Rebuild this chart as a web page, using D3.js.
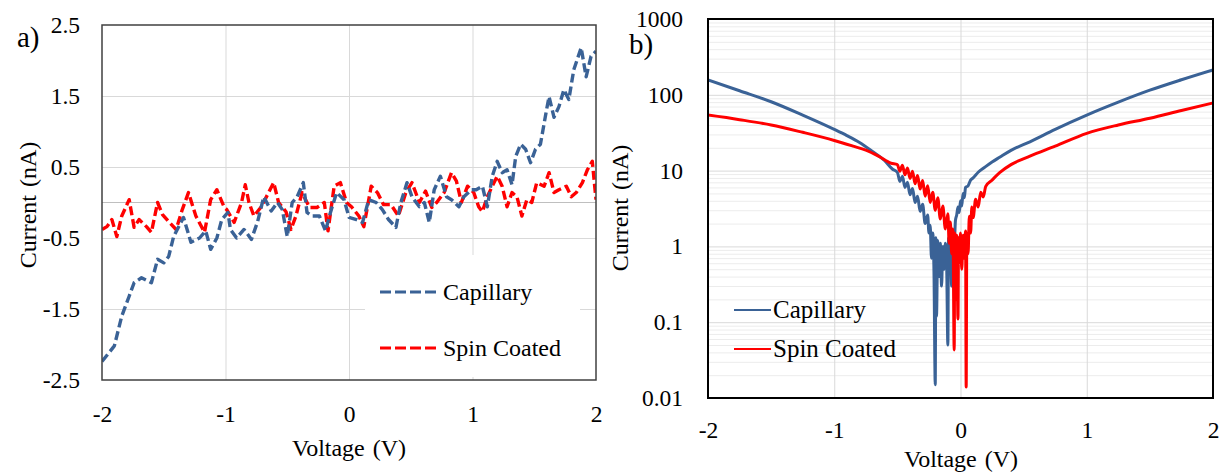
<!DOCTYPE html>
<html lang="en">
<head>
    <meta charset="utf-8"/>
    <title>I-V curves</title>
    <style>
        body { margin: 0; background: #fff; }
        svg, svg text { font-family: "Liberation Serif", "Times New Roman", serif; }
        .tick text { font-size: 23.5px; fill: #000; font-family: "Liberation Serif", "Times New Roman", serif; }
        .grid line { stroke: #d9d9d9; stroke-width: 1px; }
        .grid-minor line { stroke: #ececec; stroke-width: 1px; }
        .grid path, .grid-minor path, .axis path { display: none; }
    </style>
</head>
<body>
<div class="viz"></div>
<script src="https://cdnjs.cloudflare.com/ajax/libs/d3/7.8.5/d3.min.js"></script>
<script>
    // panel a) linear I-V, dashed
    var capV = [-2.00, -1.90, -1.84, -1.78, -1.74, -1.68, -1.60, -1.55, -1.50, -1.46, -1.42, -1.34, -1.28, -1.21, -1.16, -1.12, -1.07, -1.03, -0.98,
        -0.96, -0.91, -0.85, -0.79, -0.74, -0.69, -0.63, -0.58, -0.54, -0.50, -0.46, -0.42, -0.37, -0.34, -0.30, -0.24, -0.19, -0.15, -0.10, -0.04,
        0.00, 0.06, 0.11, 0.16, 0.22, 0.27, 0.32, 0.38, 0.42, 0.47, 0.51, 0.57, 0.61, 0.65, 0.69, 0.74, 0.79, 0.83, 0.89, 0.93, 0.99,
        1.03, 1.08, 1.12, 1.16, 1.20, 1.24, 1.28, 1.32, 1.35, 1.39, 1.43, 1.47, 1.51, 1.55, 1.60, 1.62, 1.66, 1.70, 1.74, 1.78, 1.82, 1.88, 1.92, 1.96, 2.00];
    var capI = [-2.24, -2.02, -1.60, -1.32, -1.13, -1.06, -1.13, -0.80, -0.85, -0.76, -0.48, -0.21, -0.56, -0.50, -0.40, -0.66, -0.50, -0.24, -0.14,
        -0.38, -0.50, -0.38, -0.52, -0.27, 0.08, -0.12, 0.00, -0.10, -0.48, 0.00, 0.08, 0.28, -0.14, -0.19, -0.19, -0.40, -0.14, 0.14, 0.04,
        -0.21, -0.24, -0.28, 0.04, 0.00, -0.10, -0.24, -0.35, 0.00, 0.28, 0.08, -0.06, 0.00, -0.28, 0.18, 0.37, 0.08, 0.04, -0.06, 0.08, 0.18,
        0.18, 0.23, -0.06, 0.37, 0.58, 0.42, 0.46, 0.25, 0.65, 0.82, 0.75, 0.56, 0.75, 0.82, 1.31, 1.49, 1.20, 1.35, 1.59, 1.45, 1.87, 2.18, 1.77, 2.06, 2.13];

    var spinV = [-2.00, -1.96, -1.92, -1.88, -1.84, -1.78, -1.74, -1.70, -1.64, -1.60, -1.55, -1.51, -1.46, -1.40, -1.35, -1.30, -1.24, -1.17, -1.12, -1.07, -1.01,
        -0.99, -0.93, -0.87, -0.84, -0.81, -0.77, -0.71, -0.66, -0.61, -0.57, -0.51, -0.47, -0.43, -0.38, -0.32, -0.26, -0.20, -0.17, -0.12, -0.07, -0.02,
        0.02, 0.08, 0.12, 0.18, 0.23, 0.28, 0.34, 0.40, 0.46, 0.51, 0.57, 0.62, 0.67, 0.71, 0.77, 0.83, 0.87, 0.91, 0.96, 1.01,
        1.05, 1.08, 1.12, 1.16, 1.20, 1.24, 1.28, 1.32, 1.36, 1.40, 1.44, 1.48, 1.52, 1.58, 1.62, 1.66, 1.70, 1.76, 1.80, 1.84, 1.89, 1.93, 1.97, 2.00];
    var spinI = [-0.38, -0.34, -0.24, -0.48, -0.19, 0.04, -0.35, -0.24, -0.34, -0.42, 0.00, -0.17, -0.27, -0.38, -0.10, 0.14, -0.19, -0.42, 0.04, 0.18, -0.07,
        -0.10, -0.28, 0.00, 0.25, 0.00, -0.19, -0.06, 0.11, 0.28, 0.00, -0.13, -0.38, -0.19, 0.14, -0.07, -0.07, 0.00, -0.40, 0.23, 0.28, 0.00,
        -0.06, -0.19, -0.34, 0.23, 0.14, -0.03, -0.03, -0.19, 0.14, 0.28, 0.00, 0.16, -0.07, 0.00, 0.14, 0.42, 0.30, 0.00, 0.23, 0.14,
        -0.06, -0.13, 0.08, 0.23, 0.37, 0.23, -0.06, 0.14, 0.08, -0.19, 0.04, 0.00, 0.28, 0.23, 0.42, 0.14, 0.18, 0.23, 0.08, 0.14, 0.28, 0.46, 0.58, 0.04];

    // panel b) |I| on log axis, solid
    var capLogV = [-2.00, -1.75, -1.50, -1.25, -1.00, -0.90, -0.80, -0.70, -0.60, -0.54,
        -0.50, -0.48, -0.46, -0.44, -0.42, -0.40, -0.38, -0.36, -0.34, -0.32, -0.30, -0.28, -0.26,
        -0.25, -0.24, -0.23, -0.22, -0.21, -0.20, -0.195, -0.19, -0.18, -0.17, -0.16, -0.15, -0.14, -0.13, -0.12, -0.11, -0.10, -0.095, -0.09, -0.08, -0.07, -0.06, -0.05,
        -0.04, -0.03, -0.02, -0.01, 0.00, 0.01, 0.02, 0.03, 0.04, 0.06, 0.08, 0.10, 0.14, 0.19, 0.25, 0.31, 0.40, 0.55, 0.75, 1.00, 1.25, 1.50, 1.75, 2.00];
    var capLogI = [157, 113, 81, 54, 35, 29, 23.5, 18, 13.5, 10.5,
        9.5, 7.2, 8.4, 6.0, 7.0, 4.8, 5.8, 3.8, 4.6, 2.9, 3.6, 2.0, 2.6,
        1.5, 1.9, 0.7, 1.5, 0.45, 0.015, 1.3, 0.12, 1.2, 0.4, 1.1, 0.3, 1.0, 0.5, 1.1, 0.6, 0.05, 1.3, 0.7, 1.2, 0.3, 1.5, 1.0,
        2.2, 2.6, 3.3, 2.8, 4.0, 3.4, 5.0, 4.4, 6.0, 6.3, 7.5, 8.0, 9.5, 11, 13, 15, 18.5, 24, 35, 54, 80, 115, 158, 213];

    var spinLogV = [-2.00, -1.75, -1.50, -1.25, -1.00, -0.85, -0.75, -0.65, -0.55, -0.50, -0.48, -0.46, -0.44, -0.42, -0.40, -0.38, -0.36, -0.34, -0.32, -0.30,
        -0.28, -0.26, -0.24, -0.22, -0.20, -0.18, -0.16, -0.14, -0.12, -0.10, -0.09, -0.08, -0.07, -0.06, -0.05, -0.045, -0.04, -0.035, -0.03, -0.02, -0.015, -0.01,
        0.00, 0.01, 0.02, 0.03, 0.04, 0.045, 0.05, 0.06, 0.07, 0.08, 0.09, 0.10, 0.12, 0.14, 0.16, 0.18, 0.20, 0.25, 0.31, 0.40, 0.55, 0.75, 1.00, 1.25, 1.50, 1.75, 2.00];
    var spinLogI = [54, 47, 40, 32, 25, 21, 18.6, 15.5, 12.5, 12.0, 9.8, 11.8, 8.8, 10.8, 7.9, 9.8, 6.7, 8.6, 5.7, 7.4,
        4.6, 6.3, 3.8, 5.2, 3.0, 4.4, 2.3, 3.4, 1.7, 2.7, 1.1, 2.1, 0.8, 1.7, 0.043, 1.5, 0.7, 0.2, 1.4, 0.11, 1.3, 0.6,
        1.5, 0.5, 1.4, 0.7, 1.6, 0.014, 1.5, 0.8, 2.5, 1.5, 3.3, 2.4, 4.2, 3.3, 5.2, 4.5, 6.2, 7.5, 9.4, 12, 15.5, 21, 31, 40, 49, 62, 78];

    var seriesNames = ["Capillary", "Spin Coated"];
    var seriesColors = ["#3a6296", "#ff0000"];

    var linXTicks = [-2, -1, 0, 1, 2];
    var linYTicks = [-2.5, -1.5, -0.5, 0.5, 1.5, 2.5];
    var logYTicks = [0.01, 0.1, 1, 10, 100, 1000];

    var W = 1222, H = 475;
    var serif = "Liberation Serif, Times New Roman, serif";
    var tickFont = 23.5, titleFont = 24;
    var svg = d3.select(".viz").append("svg").attr("width", W).attr("height", H)
        .attr("font-family", serif);

    function zip(xs, ys) {
        return xs.map(function (v, i) { return [v, ys[i]]; });
    }
    function plain(d) { return String(d); }

    // ---------- panel a ----------
    var ax = {left: 102, right: 596, top: 25, bottom: 380};
    var xA = d3.scaleLinear().domain([-2, 2]).range([ax.left, ax.right]);
    var yA = d3.scaleLinear().domain([-2.5, 2.5]).range([ax.bottom, ax.top]);

    var gA = svg.append("g");

    gA.append("g").attr("class", "grid")
        .attr("transform", "translate(0," + ax.bottom + ")")
        .call(d3.axisBottom(xA).tickValues([-1, 0, 1]).tickSize(-(ax.bottom - ax.top)).tickFormat(""));
    gA.append("g").attr("class", "grid")
        .attr("transform", "translate(" + ax.left + ",0)")
        .call(d3.axisLeft(yA).tickValues([-1.5, -0.5, 0.5, 1.5]).tickSize(-(ax.right - ax.left)).tickFormat(""));

    // horizontal axis line through zero
    gA.append("line")
        .attr("x1", ax.left).attr("x2", ax.right)
        .attr("y1", yA(0)).attr("y2", yA(0))
        .attr("stroke", "#bfbfbf").attr("stroke-width", 1.2);

    svg.append("clipPath").attr("id", "clipA").append("rect")
        .attr("x", ax.left).attr("y", ax.top)
        .attr("width", ax.right - ax.left).attr("height", ax.bottom - ax.top);

    var lineA = d3.line().x(function (d) { return xA(d[0]); }).y(function (d) { return yA(d[1]); });

    var linData = [zip(spinV, spinI), zip(capV, capI)];
    var linColors = [seriesColors[1], seriesColors[0]];
    gA.append("g").attr("clip-path", "url(#clipA)")
        .selectAll("path").data(linData).enter().append("path")
        .attr("d", lineA)
        .attr("fill", "none")
        .attr("stroke", function (d, i) { return linColors[i]; })
        .attr("stroke-width", 3.4)
        .attr("stroke-dasharray", "9,4")
        .attr("stroke-linejoin", "round");

    // legend box
    var legA = gA.append("g");
    legA.append("rect").attr("x", 365).attr("y", 255).attr("width", 215).attr("height", 122).attr("fill", "#fff");
    seriesNames.forEach(function (name, i) {
        var ly = 292 + i * 56;
        legA.append("line").attr("x1", 380).attr("x2", 436).attr("y1", ly).attr("y2", ly)
            .attr("stroke", seriesColors[i]).attr("stroke-width", 3).attr("stroke-dasharray", "11,4");
        legA.append("text").attr("x", 443).attr("y", ly + 8).attr("font-size", titleFont).text(name);
    });

    gA.append("rect")
        .attr("x", ax.left).attr("y", ax.top)
        .attr("width", ax.right - ax.left).attr("height", ax.bottom - ax.top)
        .attr("fill", "none").attr("stroke", "#404040").attr("stroke-width", 1.5);

    gA.append("g").attr("class", "axis")
        .attr("transform", "translate(0," + ax.bottom + ")")
        .call(d3.axisBottom(xA).tickValues(linXTicks).tickSize(0).tickPadding(25).tickFormat(plain))
        .attr("font-family", serif).attr("font-size", tickFont);
    gA.append("g").attr("class", "axis")
        .attr("transform", "translate(" + ax.left + ",0)")
        .call(d3.axisLeft(yA).tickValues(linYTicks).tickSize(0).tickPadding(22).tickFormat(plain))
        .attr("font-family", serif).attr("font-size", tickFont);

    gA.append("text").attr("x", 349).attr("y", 456).attr("text-anchor", "middle")
        .attr("font-size", titleFont).attr("word-spacing", 2).text("Voltage (V)");
    gA.append("text").attr("transform", "translate(36,205) rotate(-90)").attr("text-anchor", "middle")
        .attr("font-size", titleFont).attr("word-spacing", 2).text("Current (nA)");
    gA.append("text").attr("x", 17).attr("y", 47).attr("font-size", 29).text("a)");

    // ---------- panel b ----------
    var bx = {left: 708, right: 1213, top: 19, bottom: 398};
    var xB = d3.scaleLinear().domain([-2, 2]).range([bx.left, bx.right]);
    var yB = d3.scaleLog().domain([0.01, 1000]).range([bx.bottom, bx.top]);

    var gB = svg.append("g");

    var minorTicks = [];
    logYTicks.slice(0, -1).forEach(function (dec) {
        for (var m = 2; m <= 9; m++) minorTicks.push(dec * m);
    });
    gB.append("g").attr("class", "grid-minor")
        .attr("transform", "translate(" + bx.left + ",0)")
        .call(d3.axisLeft(yB).tickValues(minorTicks).tickSize(-(bx.right - bx.left)).tickFormat(""));
    gB.append("g").attr("class", "grid")
        .attr("transform", "translate(" + bx.left + ",0)")
        .call(d3.axisLeft(yB).tickValues([0.1, 1, 10, 100]).tickSize(-(bx.right - bx.left)).tickFormat(""));
    gB.append("g").attr("class", "grid")
        .attr("transform", "translate(0," + bx.bottom + ")")
        .call(d3.axisBottom(xB).tickValues([-1, 0, 1]).tickSize(-(bx.bottom - bx.top)).tickFormat(""));

    svg.append("clipPath").attr("id", "clipB").append("rect")
        .attr("x", bx.left).attr("y", bx.top)
        .attr("width", bx.right - bx.left).attr("height", bx.bottom - bx.top);

    var lineB = d3.line().curve(d3.curveMonotoneX)
        .x(function (d) { return xB(d[0]); }).y(function (d) { return yB(d[1]); });
    var logData = [zip(capLogV, capLogI), zip(spinLogV, spinLogI)];
    gB.append("g").attr("clip-path", "url(#clipB)")
        .selectAll("path").data(logData).enter().append("path")
        .attr("d", lineB)
        .attr("fill", "none")
        .attr("stroke", function (d, i) { return seriesColors[i]; })
        .attr("stroke-width", 3)
        .attr("stroke-linejoin", "round");

    seriesNames.forEach(function (name, i) {
        var ly = 310 + i * 39;
        gB.append("line").attr("x1", 734).attr("x2", 771).attr("y1", ly).attr("y2", ly)
            .attr("stroke", seriesColors[i]).attr("stroke-width", 2);
        gB.append("text").attr("x", 773).attr("y", ly + 8).attr("font-size", 25).text(name);
    });

    gB.append("rect")
        .attr("x", bx.left).attr("y", bx.top)
        .attr("width", bx.right - bx.left).attr("height", bx.bottom - bx.top)
        .attr("fill", "none").attr("stroke", "#000").attr("stroke-width", 2);

    gB.append("g").attr("class", "axis")
        .attr("transform", "translate(0," + bx.bottom + ")")
        .call(d3.axisBottom(xB).tickValues(linXTicks).tickSize(0).tickPadding(23).tickFormat(plain))
        .attr("font-family", serif).attr("font-size", tickFont);
    gB.append("g").attr("class", "axis")
        .attr("transform", "translate(" + bx.left + ",0)")
        .call(d3.axisLeft(yB).tickValues(logYTicks).tickSize(0).tickPadding(25).tickFormat(plain))
        .attr("font-family", serif).attr("font-size", tickFont);

    gB.append("text").attr("x", 961).attr("y", 467).attr("text-anchor", "middle")
        .attr("font-size", titleFont).attr("word-spacing", 2).text("Voltage (V)");
    gB.append("text").attr("transform", "translate(628,208) rotate(-90)").attr("text-anchor", "middle")
        .attr("font-size", titleFont).attr("word-spacing", 2).text("Current (nA)");
    gB.append("text").attr("x", 629).attr("y", 54).attr("font-size", 29).text("b)");
</script>
</body>
</html>
